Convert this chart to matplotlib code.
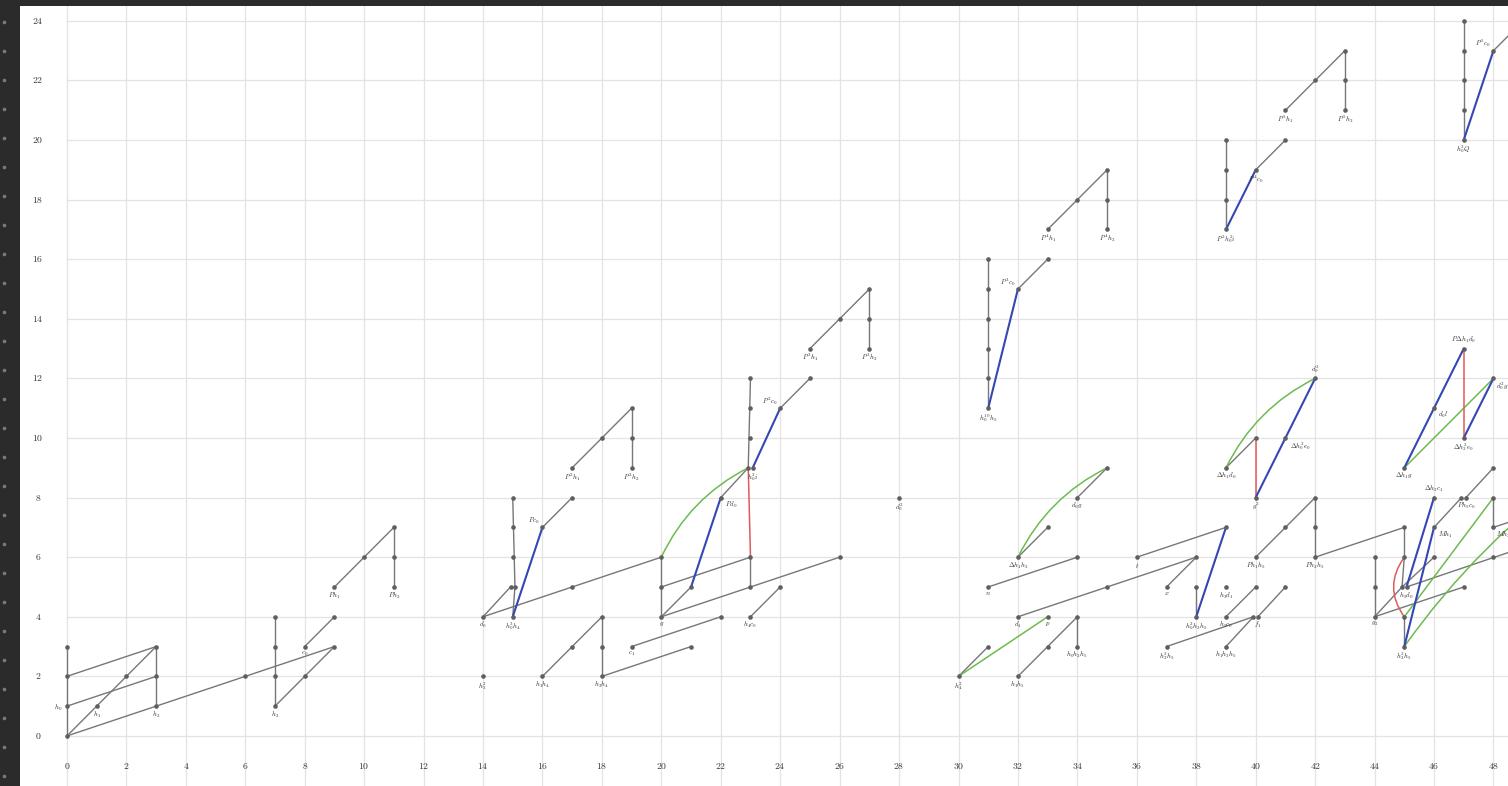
"""Adams E-infinity chart (stems 0-48) with hidden 2, eta and nu extensions."""

import matplotlib

matplotlib.use("Agg")
import matplotlib.pyplot as plt
import numpy as np
from matplotlib.patches import PathPatch
from matplotlib.path import Path

plt.rcParams["mathtext.fontset"] = "cm"

STEM_TICKS = list(range(0, 49, 2))
FILT_TICKS = list(range(0, 25, 2))

# classes as (stem, filtration); a third entry -1/+1 separates two classes in one bidegree
CLASSES = [
    (0, 0), (0, 1), (0, 2), (0, 3), (1, 1), (2, 2), (3, 1), (3, 2), (3, 3),
    (6, 2), (7, 1), (7, 2), (7, 3), (7, 4), (8, 2), (8, 3), (9, 3), (9, 4),
    (9, 5), (10, 6), (11, 5), (11, 6), (11, 7),
    (14, 2), (14, 4), (15, 4), (15, 5, -1), (15, 5, 1), (15, 6), (15, 7), (15, 8),
    (16, 2), (16, 7), (17, 3), (17, 5), (17, 8), (17, 9), (18, 2), (18, 3), (18, 4),
    (18, 10), (19, 3), (19, 9), (19, 10), (19, 11), (20, 4), (20, 5), (20, 6),
    (21, 3), (21, 5), (22, 4), (22, 8), (23, 4), (23, 5), (23, 6), (23, 9, -1),
    (23, 9, 1), (23, 10), (23, 11), (23, 12), (24, 5), (24, 11), (25, 12), (25, 13),
    (26, 6), (26, 14), (27, 13), (27, 14), (27, 15), (28, 8),
    (30, 2), (31, 3), (31, 5), (31, 11), (31, 12), (31, 13), (31, 14), (31, 15),
    (31, 16), (32, 2), (32, 4), (32, 6), (32, 15), (33, 3), (33, 4), (33, 7),
    (33, 16), (33, 17), (34, 3), (34, 4), (34, 6), (34, 8), (34, 18), (35, 5),
    (35, 9), (35, 17), (35, 18), (35, 19), (36, 6), (37, 3), (37, 5), (38, 4),
    (38, 5), (38, 6), (39, 3), (39, 4), (39, 5), (39, 7), (39, 9), (39, 17),
    (39, 18), (39, 19), (39, 20), (40, 4, -1), (40, 4, 1), (40, 5), (40, 6),
    (40, 8), (40, 10), (40, 19), (41, 5), (41, 7), (41, 10), (41, 20), (41, 21),
    (42, 6), (42, 7), (42, 8), (42, 12), (42, 22), (43, 21), (43, 22), (43, 23),
    (44, 4), (44, 5), (44, 6), (45, 3), (45, 4), (45, 5, -1), (45, 5, 1), (45, 6),
    (45, 7), (45, 9), (46, 6), (46, 7), (46, 8), (46, 11), (47, 5), (47, 8, -1),
    (47, 8, 1), (47, 10), (47, 13), (47, 20), (47, 21), (47, 22), (47, 23),
    (47, 24), (48, 6), (48, 7), (48, 8), (48, 9), (48, 12), (48, 23),
]

# h0, h1, h2 multiplications (grey), each a chain of classes
PRODUCT_CHAINS = [
    [(0, 0), (0, 3)], [(0, 0), (3, 3)], [(3, 1), (3, 3)], [(0, 0), (3, 1)],
    [(0, 1), (3, 2)], [(0, 2), (3, 3)], [(3, 1), (9, 3)], [(7, 1), (7, 4)],
    [(7, 1), (9, 3)], [(8, 3), (9, 4)], [(9, 5), (11, 7)], [(11, 5), (11, 7)],
    [(14, 4), (15, 5, -1)], [(15, 4), (15, 5, 1), (15, 8)], [(14, 4), (20, 6)],
    [(16, 2), (18, 4)], [(18, 2), (18, 4)], [(18, 2), (21, 3)], [(19, 3), (22, 4)],
    [(16, 7), (17, 8)], [(17, 9), (19, 11)], [(19, 9), (19, 11)], [(20, 4), (20, 6)],
    [(20, 4), (21, 5)], [(20, 4), (26, 6)], [(20, 5), (23, 6)], [(23, 5), (23, 6)],
    [(23, 4), (24, 5)], [(22, 8), (23, 9, -1), (23, 12)], [(24, 11), (25, 12)],
    [(25, 13), (27, 15)], [(27, 13), (27, 15)],
    [(30, 2), (31, 3)], [(31, 5), (34, 6)], [(31, 11), (31, 16)], [(32, 2), (34, 4)],
    [(34, 3), (34, 4)], [(32, 4), (38, 6)], [(32, 6), (33, 7)], [(32, 15), (33, 16)],
    [(33, 17), (35, 19)], [(35, 17), (35, 19)], [(34, 8), (35, 9)], [(36, 6), (39, 7)],
    [(37, 5), (38, 6)], [(38, 4), (38, 5)], [(37, 3), (40, 4, -1)],
    [(39, 3), (40, 4, -1)], [(40, 4, 1), (41, 5)], [(39, 4), (40, 5)],
    [(39, 9), (40, 10)], [(40, 6), (42, 8)], [(42, 6), (42, 8)], [(42, 6), (45, 7)],
    [(39, 17), (39, 20)], [(40, 19), (41, 20)], [(41, 21), (43, 23)],
    [(43, 21), (43, 23)], [(44, 4), (44, 6)], [(44, 4), (45, 5, -1), (46, 6)],
    [(44, 4), (47, 5)], [(45, 3), (45, 4)], [(45, 5, -1), (45, 6), (45, 7)],
    [(45, 5, 1), (51, 7)], [(46, 7), (47, 8, -1)], [(47, 8, 1), (48, 9)],
    [(48, 7), (48, 8)], [(48, 7), (51, 8)], [(47, 20), (47, 24)], [(48, 23), (49, 24)],
]

HIDDEN_TWO = [[(23, 6), (23, 9, -1)], [(40, 8), (40, 10)], [(47, 10), (47, 13)],
              [(45, 4), (45, 6)]]

HIDDEN_ETA = [
    [(15, 4), (16, 7)], [(21, 5), (22, 8)], [(23, 9, 1), (24, 11)], [(31, 11), (32, 15)],
    [(38, 4), (39, 7)], [(39, 17), (40, 19)], [(40, 8), (41, 10)], [(41, 10), (42, 12)],
    [(45, 3), (46, 7)], [(45, 5, 1), (46, 8)], [(45, 9), (46, 11)], [(46, 11), (47, 13)],
    [(47, 10), (48, 12)], [(47, 20), (48, 23)],
]

HIDDEN_NU = [
    [(20, 6), (23, 9, -1)], [(30, 2), (33, 4)], [(32, 6), (35, 9)], [(39, 9), (42, 12)],
    [(45, 9), (48, 12)], [(45, 4), (48, 8)], [(45, 3), (51, 9)],
]

LABELS = [
    ((0, 1), r"h_0", "left"), ((1, 1), r"h_1", "below"), ((3, 1), r"h_2", "below"),
    ((7, 1), r"h_3", "below"), ((8, 3), r"c_0", "below"), ((9, 5), r"Ph_1", "below"),
    ((11, 5), r"Ph_2", "below"), ((14, 2), r"h_3^2", "below"), ((14, 4), r"d_0", "below"),
    ((15, 4), r"h_0^3h_4", "below"), ((16, 7), r"Pc_0", "upleft"),
    ((16, 2), r"h_1h_4", "below"), ((18, 2), r"h_2h_4", "below"),
    ((17, 9), r"P^2h_1", "below"), ((19, 9), r"P^2h_2", "below"), ((19, 3), r"c_1", "below"),
    ((20, 4), r"g", "below"), ((22, 8), r"Pd_0", "right"), ((23, 9, 1), r"h_0^2i", "below"),
    ((23, 4), r"h_4c_0", "below"), ((24, 11), r"P^2c_0", "upleft"),
    ((25, 13), r"P^3h_1", "below"), ((27, 13), r"P^3h_2", "below"),
    ((28, 8), r"d_0^2", "below"), ((30, 2), r"h_4^2", "below"),
    ((31, 11), r"h_0^{10}h_5", "below"), ((32, 15), r"P^3c_0", "upleft"),
    ((33, 17), r"P^4h_1", "below"), ((35, 17), r"P^4h_2", "below"),
    ((32, 2), r"h_1h_5", "below"), ((32, 4), r"d_1", "below"), ((33, 4), r"p", "below"),
    ((34, 3), r"h_0h_2h_5", "below"), ((31, 5), r"n", "below"),
    ((32, 6), r"\Delta h_1h_3", "below"), ((34, 8), r"d_0g", "below"),
    ((36, 6), r"t", "below"), ((37, 5), r"x", "below"), ((37, 3), r"h_2^2h_5", "below"),
    ((38, 4), r"h_0^2h_3h_5", "below"), ((39, 4), r"h_5c_0", "below"),
    ((39, 3), r"h_1h_3h_5", "below"), ((39, 5), r"h_3d_1", "below"),
    ((40, 4, 1), r"f_1", "below"), ((40, 6), r"Ph_1h_5", "below"),
    ((42, 6), r"Ph_2h_5", "below"), ((39, 9), r"\Delta h_1d_0", "below"),
    ((40, 8), r"g^2", "below"), ((41, 10), r"\Delta h_0^2e_0", "right"),
    ((42, 12), r"d_0^3", "above"), ((39, 17), r"P^2h_0^2i", "below"),
    ((40, 19), r"P^4c_0", "below"), ((41, 21), r"P^5h_1", "below"),
    ((43, 21), r"P^5h_2", "below"), ((47, 20), r"h_0^3Q", "below"),
    ((48, 23), r"P^5c_0", "upleft"), ((44, 4), r"g_2", "below"),
    ((45, 3), r"h_3^2h_5", "below"), ((45, 5, 1), r"h_5d_0", "below"),
    ((46, 7), r"Mh_1", "right"), ((46, 8), r"\Delta h_2c_1", "above"),
    ((47, 8, 1), r"Ph_5c_0", "below"), ((48, 7), r"Mh_2", "rightin"),
    ((45, 9), r"\Delta h_1g", "below"), ((46, 11), r"d_0l", "right"),
    ((47, 13), r"P\Delta h_1d_0", "above"), ((47, 10), r"\Delta h_2^2e_0", "below"),
    ((48, 12), r"d_0^2g", "rightin"),
]

SLOT_SHIFT = 0.075
BULGE = 0.36
PLACEMENT = {
    "below": dict(xytext=(0, -2.5), ha="center", va="top"),
    "above": dict(xytext=(0, 2.5), ha="center", va="bottom"),
    "left": dict(xytext=(-3, -1), ha="right", va="center"),
    "right": dict(xytext=(3, -1.5), ha="left", va="top"),
    "rightin": dict(xytext=(1.5, -1.5), ha="left", va="top"),
    "upleft": dict(xytext=(-2, 1), ha="right", va="bottom"),
}


def place(key):
    slot = key[2] if len(key) > 2 else 0
    return key[0] + SLOT_SHIFT * slot, key[1]


def blocked(p0, p1, points):
    """True if some other class sits on the straight segment p0-p1."""
    a, b = np.array(p0, float), np.array(p1, float)
    d = b - a
    for q in points:
        t = np.dot(np.array(q) - a, d) / np.dot(d, d)
        if 0.05 < t < 0.95 and np.linalg.norm(a + t * d - np.array(q)) < 0.1:
            return True
    return False


def draw_chain(ax, chain, color, lw, points, z, bend=False):
    xy = [place(k) for k in chain]
    for p0, p1 in zip(xy[:-1], xy[1:]):
        if bend and blocked(p0, p1, points):
            # bend to the left of travel so the edge clears the classes in between
            a, b = np.array(p0, float), np.array(p1, float)
            d = b - a
            n = np.array([-d[1], d[0]]) / np.linalg.norm(d)
            ctrl = (a + b) / 2 + 2 * BULGE * n
            path = Path([a, ctrl, b], [Path.MOVETO, Path.CURVE3, Path.CURVE3])
            ax.add_patch(PathPatch(path, fill=False, edgecolor=color, lw=lw, zorder=z))
        else:
            ax.plot([p0[0], p1[0]], [p0[1], p1[1]], color=color, lw=lw, zorder=z,
                    solid_capstyle="round")


def main() -> None:
    fig = plt.figure(figsize=(15.08, 7.86), dpi=100, facecolor="#2b2b2b")
    ax = fig.add_axes([20 / 1508, 0, 1488 / 1508, 780 / 786])
    ax.set_facecolor("white")
    ax.set_xlim(-1.58, 48.49)
    ax.set_ylim(-1.68, 24.5)
    ax.set_xticks([])
    ax.set_yticks([])
    for spine in ax.spines.values():
        spine.set_visible(False)

    # gutter dots on the dark strip
    for y in np.arange(22, 786, 29):
        fig.add_artist(plt.Line2D([3.5 / 1508], [1 - y / 786], marker="o", ms=1.6,
                                  color="#7a7a7a", transform=fig.transFigure))

    for s in STEM_TICKS:
        ax.axvline(s, color="#e3e3e3", lw=0.9, zorder=0)
        ax.text(s, -1.0, f"${s}$", ha="center", va="center", fontsize=7, color="#333333")
    for f in FILT_TICKS:
        ax.plot([0, 48.49], [f, f], color="#e3e3e3", lw=0.9, zorder=0)
        ax.text(-0.98, f, f"${f}$", ha="center", va="center", fontsize=7, color="#333333")

    points = [place(k) for k in CLASSES]

    for chain in PRODUCT_CHAINS:
        draw_chain(ax, chain, "#777777", 1.0, points, 2)
    for chain in HIDDEN_NU:
        draw_chain(ax, chain, "#6dbb4f", 1.1, points, 3, bend=True)
    for chain in HIDDEN_TWO:
        draw_chain(ax, chain, "#e05a5a", 1.1, points, 3, bend=True)
    for chain in HIDDEN_ETA:
        draw_chain(ax, chain, "#3447b5", 1.5, points, 3, bend=True)

    xs, ys = zip(*points)
    ax.scatter(xs, ys, s=11, color="#5f5f5f", zorder=4, linewidths=0)

    for key, text, where in LABELS:
        ax.annotate(f"${text}$", place(key), textcoords="offset points", fontsize=5,
                    color="#333333", zorder=5, **PLACEMENT[where])

    fig.savefig("out.png", dpi=100, facecolor=fig.get_facecolor())


if __name__ == "__main__":
    main()
